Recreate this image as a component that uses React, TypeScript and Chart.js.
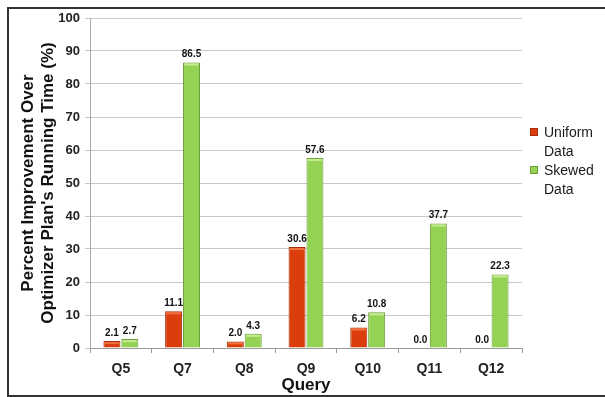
import React, { useEffect, useRef } from "react";
import { Chart, registerables } from "chart.js";

Chart.register(...registerables);

const categories = ["Q5", "Q7", "Q8", "Q9", "Q10", "Q11", "Q12"];
const uniformData = [2.1, 11.1, 2.0, 30.6, 6.2, 0.0, 0.0];
const skewedData = [2.7, 86.5, 4.3, 57.6, 10.8, 37.7, 22.3];
const seriesLabels = ["Uniform Data", "Skewed Data"];
const legendLines = [["Uniform", "Data"], ["Skewed", "Data"]];
const yTitle = ["Percent Improvement Over", "Optimizer Plan's Running Time (%)"];
const xTitle = "Query";

const FONT = "'Liberation Sans', Arial, Helvetica, sans-serif";
const RED = "#DC3D0C";
const RED_BORDER = "#A8300A";
const RED_CAP = "#F0703E";
const GREEN = "#94D253";
const GREEN_BORDER = "#6E9E3A";
const GREEN_CAP = "#C4EC92";

const dataLabelPlugin = {
  id: "dataLabels",
  afterDatasetsDraw(chart: any) {
    const ctx = chart.ctx;
    ctx.save();
    // top highlight caps
    const caps = [RED_CAP, GREEN_CAP];
    chart.data.datasets.forEach((ds: any, i: number) => {
      const meta = chart.getDatasetMeta(i);
      meta.data.forEach((el: any, j: number) => {
        const v = ds.data[j] as number;
        if (v <= 0) return;
        const h = Math.abs(el.base - el.y);
        if (h < 5) return;
        ctx.fillStyle = caps[i];
        ctx.fillRect(el.x - el.width / 2 + 1.5, el.y + 1, el.width - 3, 2);
      });
    });
    ctx.font = `bold 10px ${FONT}`;
    ctx.fillStyle = "#111";
    ctx.textAlign = "center";
    ctx.textBaseline = "bottom";
    chart.data.datasets.forEach((ds: any, i: number) => {
      const meta = chart.getDatasetMeta(i);
      meta.data.forEach((el: any, j: number) => {
        const v = ds.data[j] as number;
        ctx.fillText(v.toFixed(1), el.x, el.y - 3);
      });
    });
    ctx.restore();
  },
};

const legendPlugin = {
  id: "sideLegend",
  afterDraw(chart: any) {
    const ctx = chart.ctx;
    const x0 = chart.chartArea.right + 8;
    const colors = [
      [RED, RED_BORDER],
      [GREEN, GREEN_BORDER],
    ];
    ctx.save();
    ctx.font = `14px ${FONT}`;
    ctx.textBaseline = "middle";
    ctx.textAlign = "left";
    const startY = 132;
    const lineH = 19;
    legendLines.forEach((lines, i) => {
      const yTop = startY + i * lineH * 2;
      ctx.fillStyle = colors[i][0];
      ctx.fillRect(x0, yTop - 4, 8, 8);
      ctx.strokeStyle = colors[i][1];
      ctx.lineWidth = 1;
      ctx.strokeRect(x0 + 0.5, yTop - 3.5, 7, 7);
      ctx.fillStyle = "#1a1a1a";
      lines.forEach((t, k) => {
        ctx.fillText(t, x0 + 14, yTop + k * lineH + 1);
      });
    });
    ctx.restore();
  },
};

export default function App() {
  const canvasRef = useRef<HTMLCanvasElement | null>(null);

  useEffect(() => {
    if (!canvasRef.current) return;
    const chart = new Chart(canvasRef.current, {
      type: "bar",
      data: {
        labels: categories,
        datasets: [
          {
            label: seriesLabels[0],
            data: uniformData,
            backgroundColor: RED,
            borderColor: RED_BORDER,
            borderWidth: 1,
            categoryPercentage: 0.58,
            barPercentage: 0.95,
          },
          {
            label: seriesLabels[1],
            data: skewedData,
            backgroundColor: GREEN,
            borderColor: GREEN_BORDER,
            borderWidth: 1,
            categoryPercentage: 0.58,
            barPercentage: 0.95,
          },
        ],
      },
      options: {
        animation: false,
        responsive: false,
        maintainAspectRatio: false,
        devicePixelRatio: 1,
        layout: { padding: { left: 0, top: 18, right: 83, bottom: 0 } },
        plugins: {
          legend: { display: false },
          tooltip: { enabled: false },
        },
        scales: {
          x: {
            grid: {
              display: true,
              drawOnChartArea: false,
              drawTicks: true,
              tickLength: 5,
              color: "#999",
              offset: true,
            },
            border: { display: true, color: "#999", width: 1 },
            ticks: {
              color: "#222",
              font: { family: FONT, size: 14, weight: "bold" },
              padding: 8,
            },
            title: {
              display: true,
              text: xTitle,
              color: "#111",
              font: { family: FONT, size: 17, weight: "bold" },
              padding: { top: 0, bottom: 1 },
            },
            afterFit(scale: any) {
              scale.height = 49;
            },
          },
          y: {
            min: 0,
            max: 100,
            ticks: {
              stepSize: 10,
              color: "#222",
              font: { family: FONT, size: 13, weight: "bold" },
              padding: 5,
            },
            grid: {
              color: "#c8c8c8",
              lineWidth: 1,
              drawTicks: true,
              tickLength: 5,
            },
            border: { display: true, color: "#aaa", width: 1 },
            title: {
              display: true,
              text: yTitle,
              color: "#111",
              font: { family: FONT, size: 17, weight: "bold", lineHeight: 1.2 },
              padding: { top: 18, bottom: 0 },
            },
            afterFit(scale: any) {
              scale.width = 90;
            },
          },
        },
      },
      plugins: [dataLabelPlugin, legendPlugin],
    } as any);
    return () => chart.destroy();
  }, []);

  return (
    <div
      style={{
        position: "fixed",
        left: 0,
        top: 0,
        width: 605,
        height: 397,
        background: "#fff",
        overflow: "hidden",
      }}
    >
      <canvas
        ref={canvasRef}
        width={605}
        height={397}
        style={{ position: "absolute", left: 0, top: 0, width: 605, height: 397 }}
      />
      <div
        style={{
          position: "absolute",
          left: 7,
          top: 7,
          width: 598,
          height: 390,
          boxSizing: "border-box",
          borderLeft: "2px solid #333",
          borderTop: "2px solid #333",
          borderBottom: "2px solid #333",
          pointerEvents: "none",
        }}
      />
    </div>
  );
}
